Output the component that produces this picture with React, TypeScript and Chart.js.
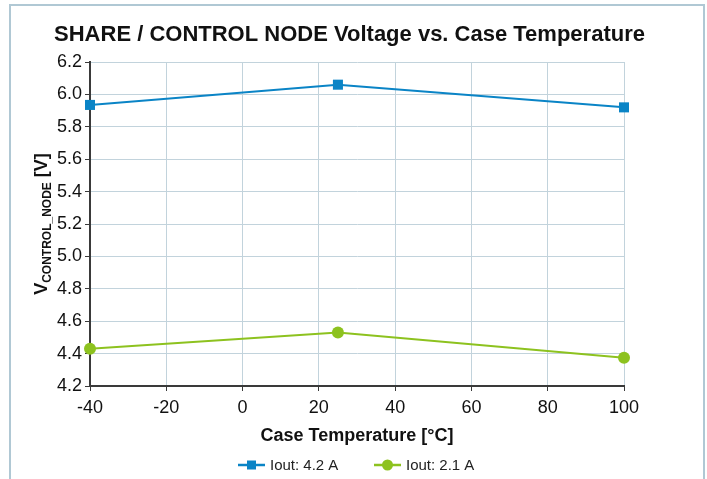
import React, { useEffect, useRef } from "react";
import { Chart, registerables } from "chart.js";

Chart.register(...registerables);

const temperatures = [-40, 25, 100];
const iout42 = [5.935, 6.06, 5.92];
const iout21 = [4.43, 4.53, 4.375];
const seriesNames = ["Iout: 4.2 A", "Iout: 2.1 A"];
const titleText = "SHARE / CONTROL NODE Voltage vs. Case Temperature";
const xTitle = "Case Temperature [°C]";
const yMain = "V";
const ySub = "CONTROL_NODE";
const yUnit = " [V]";

const BLUE = "#0a84c6";
const GREEN = "#8dc21f";
const FONT = "'Liberation Sans', Arial, sans-serif";

const decor = {
  id: "decor",
  beforeDraw(chart: any) {
    const ctx = chart.ctx;
    ctx.save();
    ctx.fillStyle = "#ffffff";
    ctx.fillRect(0, 0, chart.width, chart.height);
    ctx.strokeStyle = "#b0c8d4";
    ctx.lineWidth = 2;
    ctx.strokeRect(10, 5, 694, 520);
    ctx.restore();
  },
  afterDraw(chart: any) {
    const ctx = chart.ctx;
    const area = chart.chartArea;
    ctx.save();
    // title
    ctx.fillStyle = "#111111";
    ctx.font = `bold 22px ${FONT}`;
    ctx.textAlign = "center";
    ctx.textBaseline = "middle";
    ctx.fillText(titleText, 349.5, 35);

    // y axis label with subscript
    const cy = (area.top + area.bottom) / 2;
    ctx.translate(41, cy);
    ctx.rotate(-Math.PI / 2);
    ctx.textAlign = "left";
    ctx.textBaseline = "alphabetic";
    ctx.font = `bold 18px ${FONT}`;
    const wV = ctx.measureText(yMain).width;
    const wU = ctx.measureText(yUnit).width;
    ctx.font = `bold 12px ${FONT}`;
    const wS = ctx.measureText(ySub).width;
    const total = wV + wS + wU;
    let x = -total / 2;
    const base = 6.4;
    ctx.font = `bold 18px ${FONT}`;
    ctx.fillText(yMain, x, base);
    x += wV;
    ctx.font = `bold 12px ${FONT}`;
    ctx.fillText(ySub, x, base + 4);
    x += wS;
    ctx.font = `bold 18px ${FONT}`;
    ctx.fillText(yUnit, x, base);
    ctx.restore();

    // legend
    ctx.save();
    const ly = 465;
    const items = [
      { x0: 238, color: BLUE, style: "rect", label: seriesNames[0] },
      { x0: 374, color: GREEN, style: "circle", label: seriesNames[1] },
    ];
    ctx.font = `15px ${FONT}`;
    ctx.textBaseline = "middle";
    ctx.textAlign = "left";
    for (const it of items) {
      ctx.strokeStyle = it.color;
      ctx.lineWidth = 2.5;
      ctx.beginPath();
      ctx.moveTo(it.x0, ly);
      ctx.lineTo(it.x0 + 27, ly);
      ctx.stroke();
      ctx.fillStyle = it.color;
      const cx = it.x0 + 13.5;
      if (it.style === "rect") {
        ctx.fillRect(cx - 4.5, ly - 4.5, 9, 9);
      } else {
        ctx.beginPath();
        ctx.arc(cx, ly, 5.5, 0, Math.PI * 2);
        ctx.fill();
      }
      ctx.fillStyle = "#222222";
      ctx.fillText(it.label, it.x0 + 32, ly + 1);
    }
    ctx.restore();
  },
};

export default function App() {
  const ref = useRef<HTMLCanvasElement | null>(null);
  useEffect(() => {
    if (!ref.current) return;
    const chart = new Chart(ref.current, {
      type: "line",
      data: {
        datasets: [
          {
            label: seriesNames[0],
            data: temperatures.map((t, i) => ({ x: t, y: iout42[i] })),
            borderColor: BLUE,
            backgroundColor: BLUE,
            borderWidth: 2,
            pointStyle: "rect",
            pointRadius: 7.1,
            pointBorderWidth: 0,
            tension: 0,
            clip: false,
          },
          {
            label: seriesNames[1],
            data: temperatures.map((t, i) => ({ x: t, y: iout21[i] })),
            borderColor: GREEN,
            backgroundColor: GREEN,
            borderWidth: 2,
            pointStyle: "circle",
            pointRadius: 6,
            pointBorderWidth: 0,
            tension: 0,
            clip: false,
          },
        ],
      },
      options: {
        responsive: false,
        animation: false,
        devicePixelRatio: 1,
        layout: { padding: { top: 62, left: 0, right: 83, bottom: 32.2 } },
        plugins: {
          legend: { display: false },
          title: { display: false },
          tooltip: { enabled: false },
        },
        scales: {
          x: {
            type: "linear",
            min: -40,
            max: 100,
            ticks: {
              stepSize: 20,
              padding: 6,
              color: "#111111",
              font: { family: FONT, size: 18 },
            },
            grid: {
              color: "#c2d3dc",
              lineWidth: 1,
              tickLength: 5,
              tickColor: "#3a3a3a",
            },
            border: { display: true, color: "#3a3a3a", width: 2 },
            title: {
              display: true,
              text: xTitle,
              color: "#111111",
              font: { family: FONT, size: 18, weight: "bold" },
              padding: { top: 0, bottom: 0 },
            },
            afterFit(scale: any) {
              scale.height = 60.8;
            },
          },
          y: {
            type: "linear",
            min: 4.2,
            max: 6.2,
            ticks: {
              stepSize: 0.2,
              padding: 3,
              color: "#111111",
              font: { family: FONT, size: 18 },
              callback: (v: any) => Number(v).toFixed(1),
            },
            grid: {
              color: "#c2d3dc",
              lineWidth: 1,
              tickLength: 5,
              tickColor: "#3a3a3a",
            },
            border: { display: true, color: "#3a3a3a", width: 2 },
            afterFit(scale: any) {
              scale.width = 90;
            },
          },
        },
      },
      plugins: [decor],
    });
    return () => chart.destroy();
  }, []);
  return (
    <div style={{ position: "absolute", left: 0, top: 0, width: 707, height: 479 }}>
      <canvas ref={ref} width={707} height={479} style={{ display: "block" }} />
    </div>
  );
}
